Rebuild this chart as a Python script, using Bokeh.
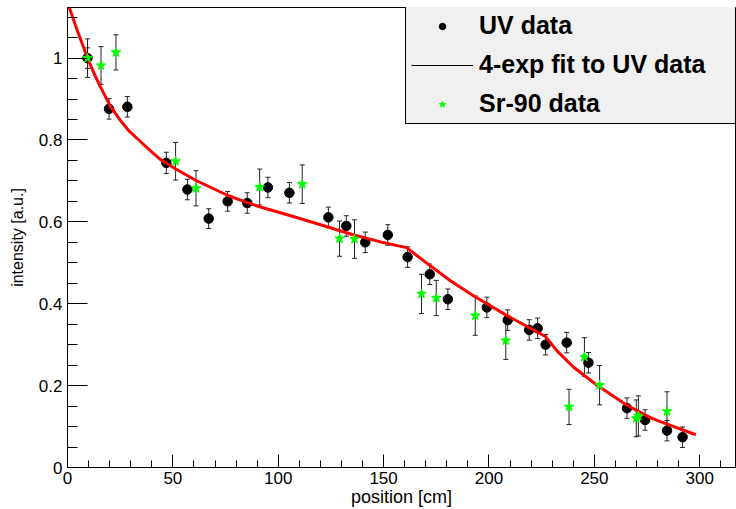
from bokeh.plotting import figure
from bokeh.models import (Range1d, FixedTicker, Whisker, TeeHead, ColumnDataSource,
                          Legend, LegendItem)
from bokeh.embed import file_html
from bokeh.resources import INLINE

# ---- data ----
uv_x = [9.5, 19.7, 28.4, 46.9, 56.9, 67.0, 76.0, 85.3, 95.1, 105.3, 123.8, 132.3, 141.3, 152.0,
        161.4, 171.9, 180.5, 199.0, 208.9, 219.1, 223.1, 226.9, 236.9, 247.2, 265.5, 274.1, 284.5, 291.9]
uv_y = [1.000, 0.876, 0.881, 0.744, 0.679, 0.608, 0.650, 0.646, 0.684, 0.671, 0.611, 0.590, 0.550, 0.568,
        0.514, 0.472, 0.411, 0.391, 0.360, 0.336, 0.340, 0.300, 0.305, 0.256, 0.145, 0.116, 0.090, 0.074]
uv_err = [0.025, 0.025, 0.025, 0.026, 0.025, 0.024, 0.024, 0.025, 0.025, 0.025, 0.025, 0.025, 0.025, 0.025,
          0.025, 0.025, 0.025, 0.025, 0.025, 0.025, 0.025, 0.025, 0.025, 0.025, 0.025, 0.025, 0.025, 0.025]

sr_x = [9.5, 15.9, 23.0, 51.3, 61.0, 91.2, 111.4, 129.1, 136.2, 168.0, 175.0, 193.5, 208.0, 238.0,
        245.3, 252.5, 269.9, 270.9, 284.5]
sr_y = [1.000, 0.982, 1.014, 0.748, 0.682, 0.685, 0.692, 0.559, 0.558, 0.424, 0.414, 0.371, 0.310, 0.148,
        0.270, 0.201, 0.120, 0.126, 0.137]
sr_err = [0.047, 0.046, 0.043, 0.046, 0.043, 0.044, 0.047, 0.043, 0.047, 0.048, 0.043, 0.048, 0.046, 0.043,
          0.047, 0.048, 0.045, 0.049, 0.048]

fit_x = [0.8, 4.7, 9.5, 12.5, 15.5, 20.2, 24.9, 29.0, 33.2, 39.5, 44.2, 51.4, 61.0, 75.9, 85.3, 91.2, 105.9,
         120.1, 135.9, 148.6, 160.9, 172.3, 181.7, 192.8, 208.6, 222.9, 226.8, 232.3, 240.2, 251.3, 265.5,
         276.6, 281.3, 298.2]
fit_y = [1.124, 1.067, 1.000, 0.964, 0.931, 0.884, 0.849, 0.823, 0.803, 0.773, 0.752, 0.729, 0.701, 0.665,
         0.647, 0.637, 0.615, 0.593, 0.568, 0.551, 0.537, 0.492, 0.456, 0.419, 0.371, 0.331, 0.320, 0.285,
         0.245, 0.201, 0.152, 0.122, 0.112, 0.080]

x_ticks = [0, 50, 100, 150, 200, 250, 300]
x_minor = [v for v in range(0, 320, 10)]
y_ticks = [0, 0.2, 0.4, 0.6, 0.8, 1.0]
y_tick_labels = ["0", "0.2", "0.4", "0.6", "0.8", "1"]
y_minor = [round(0.05 * i, 2) for i in range(0, 23)]

x_title = "position [cm]"
y_title = "intensity [a.u.]"
legend_labels = ["UV data", "4-exp fit to UV data", "Sr-90 data"]

FONT = "Liberation Sans"
NAN = float("nan")

p = figure(width=736, height=509, x_range=Range1d(0, 317), y_range=Range1d(0, 1.1236),
           output_backend="svg", toolbar_location=None,
           min_border_left=67, min_border_right=1, min_border_top=7, min_border_bottom=42)
p.xgrid.visible = False
p.ygrid.visible = False
p.outline_line_color = "black"
p.outline_line_width = 1
p.outline_line_alpha = 1
p.background_fill_color = "white"
p.border_fill_color = "white"

for ax in (p.xaxis[0], p.yaxis[0]):
    ax.axis_line_color = "black"
    ax.major_tick_line_color = "black"
    ax.minor_tick_line_color = "black"
    ax.major_tick_out = 0
    ax.minor_tick_out = 0
    ax.major_label_text_font = FONT
    ax.major_label_text_font_size = "17px"
    ax.major_label_text_color = "black"
    ax.axis_label_text_font = FONT
    ax.axis_label_text_font_style = "normal"
    ax.axis_label_text_color = "black"

xa = p.xaxis[0]
xa.ticker = FixedTicker(ticks=x_ticks, minor_ticks=x_minor)
xa.major_tick_in = 13
xa.minor_tick_in = 7
xa.major_label_standoff = 4
xa.axis_label = x_title
xa.axis_label_text_font_size = "18px"
xa.axis_label_standoff = 0

ya = p.yaxis[0]
ya.ticker = FixedTicker(ticks=y_ticks, minor_ticks=y_minor)
ya.major_label_overrides = {t: l for t, l in zip(y_ticks, y_tick_labels)}
ya.major_tick_in = 20
ya.minor_tick_in = 10
ya.major_label_standoff = 5
ya.axis_label = y_title
ya.axis_label_text_font_size = "16px"
ya.axis_label_standoff = 10

# error bars
src_uv = ColumnDataSource(dict(x=uv_x, y=uv_y,
                               lo=[y - e for y, e in zip(uv_y, uv_err)],
                               hi=[y + e for y, e in zip(uv_y, uv_err)]))
src_sr = ColumnDataSource(dict(x=sr_x, y=sr_y,
                               lo=[y - e for y, e in zip(sr_y, sr_err)],
                               hi=[y + e for y, e in zip(sr_y, sr_err)]))
for src in (src_uv, src_sr):
    w = Whisker(source=src, base="x", lower="lo", upper="hi", dimension="height",
                line_color="#222222", line_width=1,
                upper_head=TeeHead(size=5, line_color="#222222", line_width=1),
                lower_head=TeeHead(size=5, line_color="#222222", line_width=1))
    p.add_layout(w)

p.scatter("x", "y", source=src_uv, marker="circle", size=9.5, fill_color="black", line_color="black")
p.line(fit_x, fit_y, line_color="#ff0000", line_width=3)
p.scatter("x", "y", source=src_sr, marker="star", size=10, fill_color="#00ff00", line_color="#00ff00")

# legend proxies (no visible data)
leg_uv = p.scatter(x=[NAN], y=[NAN], marker="circle", size=7, fill_color="black", line_color="black")
leg_fit = p.line(x=[NAN, NAN], y=[NAN, NAN], line_color="black", line_width=1)
leg_sr = p.scatter(x=[NAN], y=[NAN], marker="star", size=6, fill_color="#00ff00", line_color="#00ff00")

legend = Legend(items=[LegendItem(label=legend_labels[0], renderers=[leg_uv]),
                       LegendItem(label=legend_labels[1], renderers=[leg_fit]),
                       LegendItem(label=legend_labels[2], renderers=[leg_sr])],
                location=(338, 343), orientation="vertical",
                label_text_font=FONT, label_text_font_style="bold", label_text_font_size="25px",
                label_text_color="black",
                padding=5, spacing=10, margin=0, glyph_width=62, glyph_height=16,
                label_height=28, label_width=262, label_standoff=6,
                border_line_color="black", border_line_width=1, border_line_alpha=1,
                background_fill_color="#f0f0f0", background_fill_alpha=1)
p.add_layout(legend)

open("out.html", "w").write(file_html(p, INLINE))
